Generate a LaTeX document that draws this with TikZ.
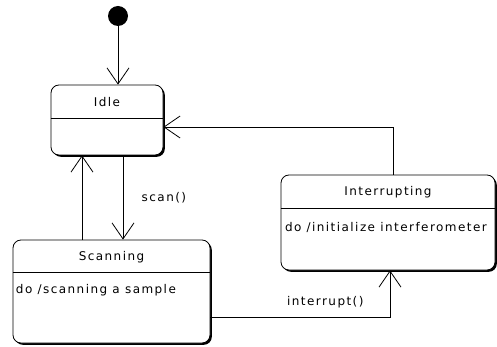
\documentclass[tikz,border=0pt]{standalone}
\usepackage{fontspec}
\setmainfont[LetterSpace=12]{DejaVu Sans}
\usetikzlibrary{positioning, arrows.meta, shadows}

\begin{document}
\begin{tikzpicture}[x=1pt, y=-1pt, line width=0.8pt, >={Straight Barb[length=16pt, width=22pt]},
	font=\fontsize{12}{14}\selectfont,
	state/.style={draw, fill=white, rounded corners=8pt, inner sep=0pt,
		drop shadow={opacity=1, fill=black, shadow xshift=1.8pt, shadow yshift=-1.8pt}},
	txt/.style={inner sep=0pt}]
	\useasboundingbox (0,0) rectangle (497,347);
	
	% Define nodes
	\node [circle, fill, minimum size=20pt, inner sep=0pt] (init) at (118,16) {};
	\node [state, minimum width=112pt, minimum height=70pt] (idle) at (107,120) {};
	\node [state, minimum width=197pt, minimum height=103pt] (scanning) at (111.5,291.5) {};
	\node [state, minimum width=214pt, minimum height=95pt] (interrupting) at (388,222.5) {};
	
	% Compartments and texts
	\draw ([yshift=2pt]idle.west) -- ([yshift=2pt]idle.east);
	\draw ([yshift=19.5pt]scanning.west) -- ([yshift=19.5pt]scanning.east);
	\draw ([yshift=14.5pt]interrupting.west) -- ([yshift=14.5pt]interrupting.east);
	\node [txt] (idletitle) at ([yshift=18pt]idle.center) {Idle};
	\node [txt] (scantitle) at ([yshift=34.5pt]scanning.center) {Scanning};
	\node [txt, anchor=west] (scanbody) at ([xshift=3pt, yshift=1.5pt]scanning.west) {do /scanning a sample};
	\node [txt] (intertitle) at ([yshift=30.5pt]interrupting.center) {Interrupting};
	\node [txt, anchor=west] (interbody) at ([xshift=4pt, yshift=-4.5pt]interrupting.west) {do /initialize interferometer};
	
	% Transitions
	\coordinate (backup) at ([xshift=-25pt]idle.south);
	\coordinate (scandown) at ([xshift=16pt]idle.south);
	\draw[->] (init) -- (init |- idle.north);
	\draw[->] (scanning.north -| backup) -- (backup);
	\draw[->] (scandown) -- (scanning.north -| scandown) node[midway, right=15pt] {scan()};
	\draw[->] ([yshift=-25.5pt]scanning.east) -| ([xshift=2pt]interrupting.south) node[pos=0.32, above=5pt] {interrupt()};
	\draw[->] ([xshift=5pt]interrupting.north) |- ([yshift=-7pt]idle.east);
	
\end{tikzpicture}
\end{document}
